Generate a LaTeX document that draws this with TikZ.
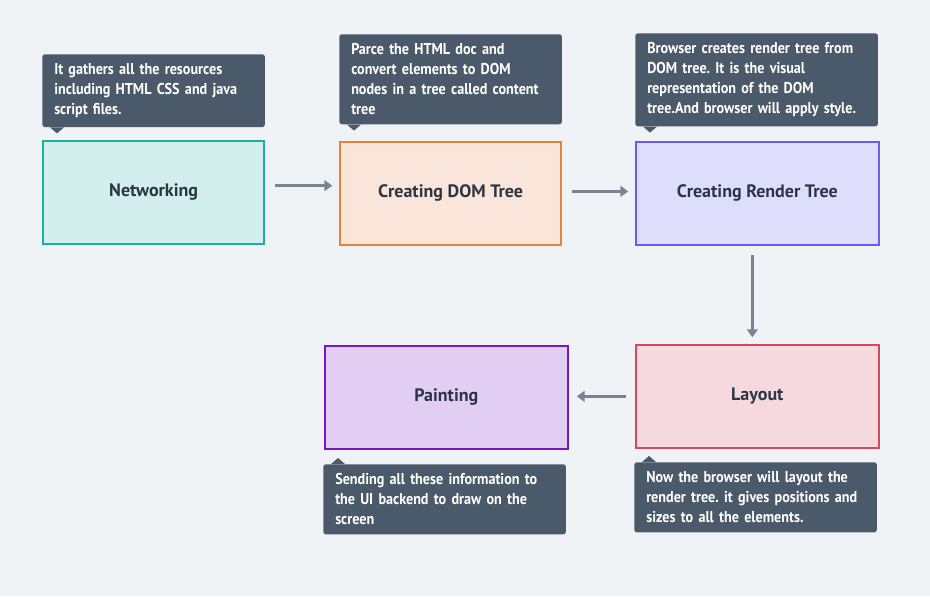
\documentclass[tikz,border=0pt]{standalone}
\usepackage{fontspec}
\setmainfont{PT Sans}
\newfontfamily\notefont{PT Sans}[FakeStretch=0.9]
\usepackage{xcolor}
\usetikzlibrary{arrows.meta}
\frenchspacing

\definecolor{pagebg}{HTML}{F0F3F6}
\definecolor{notebg}{HTML}{4A5A6A}
\definecolor{linkcol}{HTML}{778593}
\definecolor{titlecol}{HTML}{2B3645}

\tikzset{
  stage/.style={draw, line width=1.5pt, anchor=north west, minimum height=77pt,
    text=titlecol, font=\fontsize{13.5}{16}\selectfont\bfseries},
  note/.style={fill=notebg, rounded corners=2pt, anchor=north west, text=white,
    inner xsep=9pt, inner ysep=7pt, align=left,
    font=\notefont\fontsize{11.8}{15}\selectfont\bfseries},
  link/.style={-{Triangle[length=6pt,width=8pt]}, line width=2.2pt, draw=linkcol}
}

\begin{document}
\begin{tikzpicture}[x=0.75pt,y=-0.75pt]
    % Background
    \fill[pagebg] (0,0) rectangle (930,596);
    \useasboundingbox (0,0) rectangle (930,596);

    % Stages
    \node[stage, fill={rgb,255:red,210;green,239;blue,238}, draw={rgb,255:red,26;green,176;blue,154}, minimum width=166pt] (net) at (42,140) {Networking};
    \node[stage, fill={rgb,255:red,249;green,229;blue,217}, draw={rgb,255:red,232;green,130;blue,58}, minimum width=166pt] (dom) at (339,141) {Creating DOM Tree};
    \node[stage, fill={rgb,255:red,222;green,221;blue,252}, draw={rgb,255:red,106;green,92;blue,240}, minimum width=182pt] (render) at (635,141) {Creating Render Tree};
    \node[stage, fill={rgb,255:red,246;green,217;blue,222}, draw={rgb,255:red,214;green,71;blue,91}, minimum width=182pt] (layout) at (635,344) {Layout};
    \node[stage, fill={rgb,255:red,227;green,206;blue,243}, draw={rgb,255:red,122;green,20;blue,196}, minimum width=182pt] (paint) at (324,345) {Painting};

    % Notes
    \node[note, text width=149pt] (netnote) at (42,54) {It gathers all the resources\\ including HTML CSS and java\\ script files.};
    \node[note, text width=149pt] (domnote) at (339,34) {Parce the HTML doc and\\ convert elements to DOM\\ nodes in a tree called content\\ tree};
    \node[note, text width=164pt] (rendernote) at (635,33) {Browser creates render tree from\\ DOM tree. It is the visual\\ representation of the DOM\\ tree.And browser will apply style.};
    \node[note, text width=164pt] (paintnote) at (323,464) {Sending all these information to\\ the UI backend to draw on the\\ screen};
    \node[note, text width=164pt] (layoutnote) at (634,462) {Now the browser will layout the\\ render tree. it gives positions and\\ sizes to all the elements.};

    % Note pointers
    \foreach \n in {netnote,domnote,rendernote}
        \fill[notebg] (\n.south west) ++(8,0) -- ++(14,0) -- ++(-7,6) -- cycle;
    \foreach \n in {paintnote,layoutnote}
        \fill[notebg] (\n.north west) ++(8,0) -- ++(14,0) -- ++(-7,-6) -- cycle;

    % Flow
    \draw[link, shorten <=7.5pt, shorten >=5pt] ([yshift=5pt]net.east) -- ([yshift=5pt]net.east -| dom.west);
    \draw[link, shorten <=7.5pt, shorten >=5pt] ([yshift=1.5pt]dom.east) -- ([yshift=1.5pt]dom.east -| render.west);
    \draw[link, shorten <=7pt, shorten >=5pt] ([xshift=-3.75pt]render.south) -- ([xshift=-3.75pt]render.south |- layout.north);
    \draw[link, shorten <=7pt, shorten >=6pt] (layout.west) -- (layout.west -| paint.east);
\end{tikzpicture}
\end{document}
